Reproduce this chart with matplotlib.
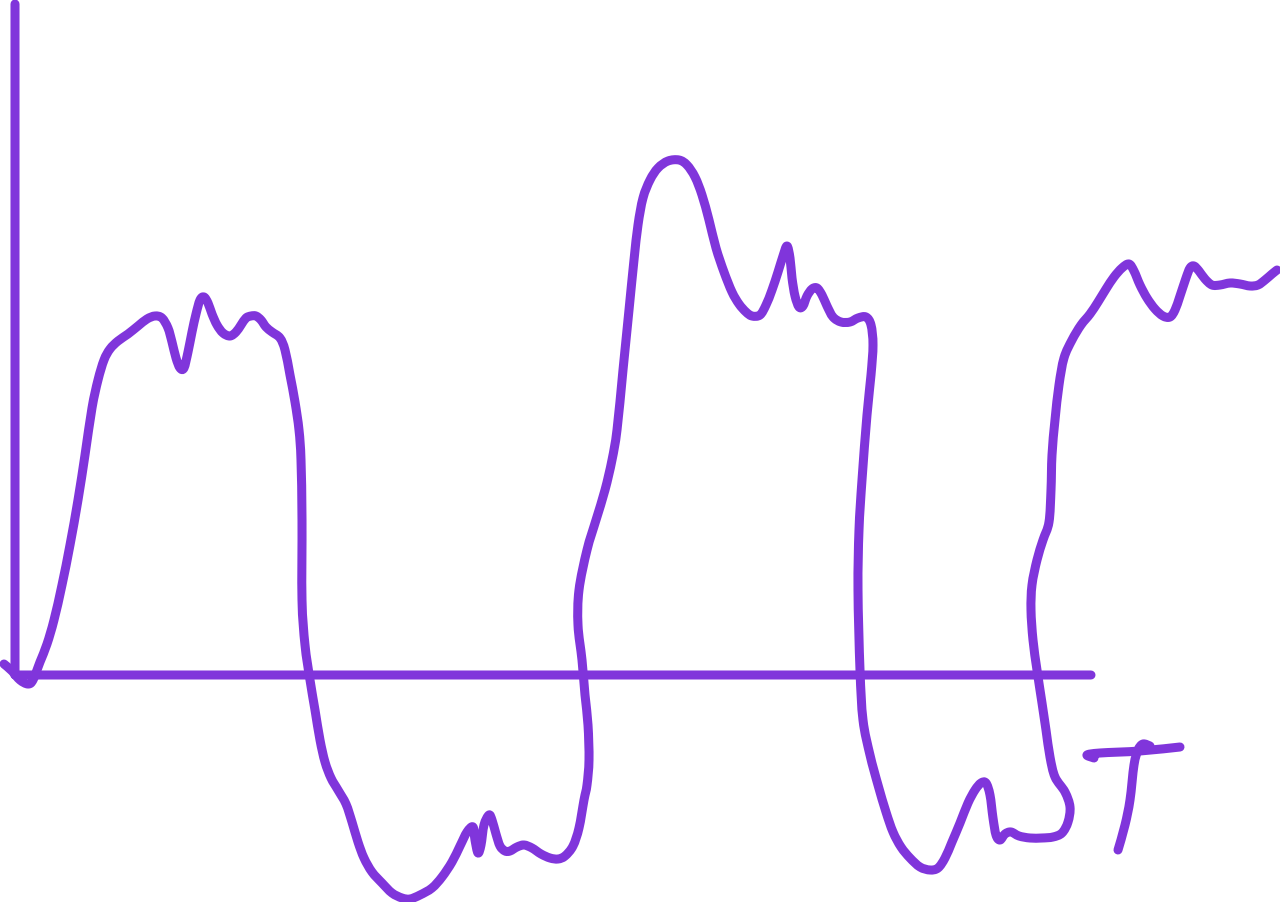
import matplotlib
matplotlib.use('Agg')
import matplotlib.pyplot as plt
from matplotlib.path import Path
from matplotlib.patches import PathPatch

# curve, in image pixels, one (x, y) per point
curve = [(4, 664), (12, 671), (20, 680), (28, 684), (33, 680), (40, 662), (47, 644), (54, 620), (62, 585), (70, 545),
         (78, 500), (85, 455), (92, 408), (98, 380), (104, 360), (110, 349), (118, 341), (128, 334), (138, 326),
         (147, 319), (155, 316), (162, 318), (168, 328), (172, 342), (176, 358), (180, 368), (184, 368), (188, 352),
         (192, 332), (196, 314), (200, 300), (204, 297), (208, 303), (212, 314), (217, 325), (223, 333), (230, 336),
         (236, 332), (241, 325), (246, 318), (251, 316), (256, 316), (261, 320), (266, 327), (272, 332), (280, 338),
         (285, 350), (290, 375), (295, 402), (299, 430), (301, 460), (302, 520), (302, 600), (305, 645), (310, 680),
         (315, 710), (320, 740), (325, 762), (331, 778), (338, 790), (346, 804), (352, 822), (358, 842), (364, 858),
         (372, 872), (382, 883), (392, 893), (402, 898), (410, 899), (420, 895), (432, 888), (442, 877), (452, 862),
         (460, 846), (467, 832), (473, 827), (475, 840), (478, 853), (481, 845), (484, 825), (489, 815),
         (492, 820), (496, 834), (500, 846), (505, 851), (510, 851), (517, 847), (524, 845), (532, 848), (541, 854),
         (550, 858), (558, 859), (565, 856), (573, 846), (579, 828), (584, 800), (587, 785), (589, 760), (588, 725),
         (585, 695), (582, 660), (578, 625), (579, 590), (587, 550), (596, 520), (605, 490), (612, 460), (617, 430),
         (623, 370), (629, 310), (634, 260), (638, 225), (643, 198), (650, 180), (658, 168), (668, 161), (679, 160),
         (687, 165), (695, 177), (702, 195), (709, 220), (716, 248), (724, 272), (732, 292), (739, 304), (746, 312),
         (752, 316), (760, 315), (766, 305), (772, 290), (778, 272), (783, 256), (787, 246), (790, 258), (792, 278),
         (795, 296), (799, 307), (803, 306), (807, 296), (812, 289), (817, 288), (822, 295), (827, 306), (833, 317),
         (841, 322), (850, 322), (858, 318), (866, 317), (871, 325), (873, 345), (871, 375), (867, 415), (862, 480),
         (859, 530), (858, 590), (860, 670), (863, 720), (870, 755), (878, 785), (886, 812), (893, 832), (901, 847),
         (910, 858), (920, 867), (930, 870), (938, 868), (945, 858), (952, 842), (960, 823), (968, 803), (975, 790),
         (981, 783), (986, 783), (990, 795), (993, 818), (996, 835), (1000, 840), (1005, 834), (1011, 832), (1019, 836),
         (1030, 838), (1042, 838), (1053, 837), (1062, 833), (1068, 822), (1070, 807), (1065, 792), (1055, 777),
         (1050, 757), (1046, 730), (1042, 703), (1037, 670), (1033, 640), (1031, 610), (1032, 585), (1037, 560),
         (1043, 540), (1049, 522), (1051, 490), (1052, 455), (1055, 420), (1059, 385), (1064, 358), (1072, 340),
         (1081, 325), (1090, 314), (1098, 302), (1106, 289), (1114, 277), (1122, 268), (1129, 264), (1134, 271),
         (1140, 285), (1147, 298), (1155, 309), (1163, 316), (1170, 317), (1175, 310), (1180, 296), (1186, 278),
         (1190, 268), (1194, 266), (1199, 271), (1205, 279), (1212, 285), (1220, 285), (1230, 283), (1240, 284),
         (1250, 286), (1258, 285), (1265, 280), (1272, 274), (1277, 270)]

xaxis = [(15, 675), (1091, 675)]
yaxis = [(15, 4), (15, 675)]

# the T label is hand drawn, so it is strokes too
t_bar = [(1094, 758), (1087, 755), (1100, 753), (1140, 751), (1180, 747)]
t_stem = [(1118, 850), (1125, 825), (1130, 800), (1134, 765), (1138, 750), (1143, 744), (1150, 746)]

purple = '#8035DB'
stroke_width = 6.5

fig = plt.figure(figsize=(12.8, 9.02), dpi=100)
ax = fig.add_axes([0, 0, 1, 1])
ax.set_xlim(0, 1280)
ax.set_ylim(902, 0)
ax.axis('off')


def draw_stroke(pts):
    # smooth pen stroke through the points (Catmull-Rom as bezier segments)
    verts = [pts[0]]
    codes = [Path.MOVETO]
    for i in range(len(pts) - 1):
        p0 = pts[max(i - 1, 0)]
        p1 = pts[i]
        p2 = pts[i + 1]
        p3 = pts[min(i + 2, len(pts) - 1)]
        c1 = (p1[0] + (p2[0] - p0[0]) / 6, p1[1] + (p2[1] - p0[1]) / 6)
        c2 = (p2[0] - (p3[0] - p1[0]) / 6, p2[1] - (p3[1] - p1[1]) / 6)
        verts += [c1, c2, p2]
        codes += [Path.CURVE4, Path.CURVE4, Path.CURVE4]
    ax.add_patch(PathPatch(Path(verts, codes), fill=False, edgecolor=purple, lw=stroke_width,
                           capstyle='round', joinstyle='round'))


for stroke in [curve, xaxis, yaxis, t_bar, t_stem]:
    draw_stroke(stroke)

fig.savefig('out.png', dpi=100)
